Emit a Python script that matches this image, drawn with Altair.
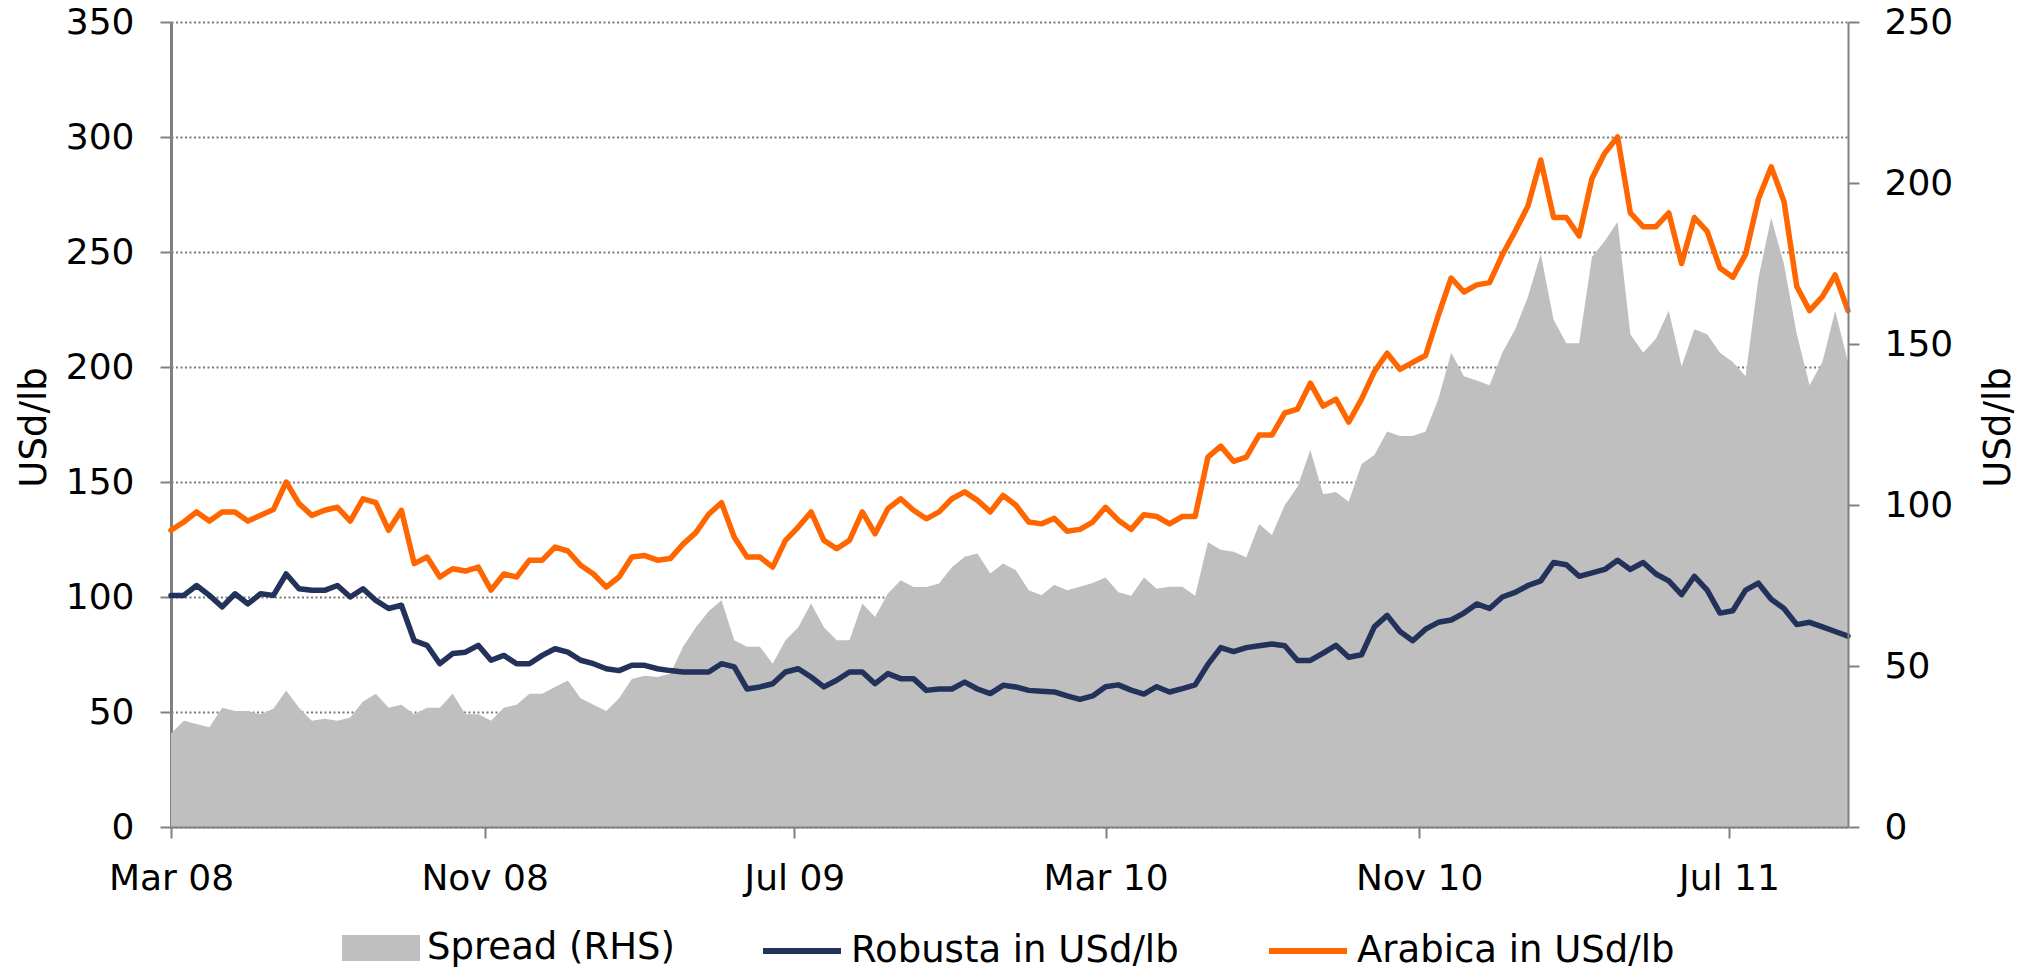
import altair as alt
import pandas as pd

# ---- data (one value every 10 days from 1 Mar 2008) ----
START = "2008-03-01"
STEP_DAYS = 10

arabica = [129, 132.6, 137, 133, 137, 137, 133, 135.5, 138, 150,
           140.6, 135.5, 137.7, 139, 133, 142.7, 141, 129, 137.7, 114.5,
           117.4, 108.7, 112.3, 111.3, 113, 103, 110, 108.7, 116, 116,
           121.7, 120, 113.8, 110, 104.3, 108.7, 117.4, 118, 116, 116.7,
           123, 128, 136, 141, 126, 117.4, 117.4, 113, 124.6, 130.4,
           137, 124.6, 121, 124.6, 137, 127.5, 138.4, 142.7, 137.7, 134,
           137, 142.7, 145.7, 142, 137, 144.2, 139.9, 132.6, 131.8, 134.2,
           128.6, 129.4, 132.6, 139, 133.4, 129.4, 135.8, 135, 131.8, 135,
           135, 160.8, 165.6, 159, 160.8, 170.4, 170.4, 180, 181.7, 193,
           183, 186, 176, 186, 198, 206, 199, 202, 205, 222.5,
           238.7, 232.6, 235.7, 236.7, 248.8, 259, 270, 290, 265, 265,
           257, 282, 293, 300, 267, 261, 261, 267, 245, 265,
           259, 243, 239, 249, 273, 287, 272, 235, 224.5, 230.6,
           240, 224.5]

robusta = [100.7, 100.7, 105, 100.7, 95.7, 101.4, 97, 101.4, 100.7, 110,
           103.6, 102.9, 102.9, 105, 100, 103.6, 98.5, 95, 96.4, 81,
           79, 71, 75.4, 76, 79, 72.5, 74.6, 71, 71, 74.6,
           77.5, 76, 72.5, 71, 68.8, 68, 70.3, 70.3, 68.8, 68,
           67.4, 67.4, 67.4, 71, 69.6, 60, 60.9, 62.3, 67.4, 68.8,
           65.2, 60.9, 63.8, 67.4, 67.4, 62.3, 66.7, 64.5, 64.5, 59.4,
           60, 60, 63, 60, 58, 61.6, 60.9, 59.4, 59, 58.7,
           57, 55.5, 57, 61, 61.8, 59.5, 57.8, 61, 58.7, 60.2,
           61.8, 70.7, 78, 76.3, 78, 78.8, 79.6, 78.8, 72.4, 72.4,
           75.6, 79, 73.8, 74.9, 87, 92, 85, 81, 86, 89,
           90, 93, 97, 95, 100, 102, 105, 107, 115, 114,
           109, 110.5, 112, 116, 112, 115, 110, 107, 101, 109,
           103, 93, 94, 103, 106, 99, 95, 88, 89, 87,
           85, 83]

spread = [29, 33, 32, 31, 37, 36, 36, 35, 36.7, 42.4,
          37, 33, 33.6, 33, 34, 39, 41.4, 37, 38, 35,
          37, 37, 41.4, 35, 35, 33, 37, 38, 41.4, 41.4,
          43.5, 45.5, 40, 38, 36, 40, 46, 47, 46.6, 47.6,
          56, 62, 67, 70.4, 58, 56, 56, 50.7, 58, 62,
          69.4, 62, 58, 58, 69.4, 65.2, 72.5, 76.6, 74.5, 74.5,
          75.6, 80.7, 83.9, 84.9, 78.7, 81.8, 79.7, 73.5, 72, 75.2,
          73.5, 74.6, 75.8, 77.5, 72.9, 71.8, 77.5, 74, 74.6, 74.6,
          71.8, 88.4, 86.1, 85.5, 83.8, 94.1, 90.7, 99.9, 105.7, 117.1,
          103.3, 104, 101, 112.7, 115.5, 122.8, 121.4, 121.4, 122.8, 132.9,
          147.3, 140, 138.7, 137.2, 147.3, 154.6, 164.7, 178, 157.5, 150.2,
          150.2, 177, 182, 188, 153, 147.3, 151.7, 160.3, 143, 154.6,
          153, 147.3, 144.4, 140, 170.4, 189.2, 174.8, 153, 137.2, 144.4,
          160.3, 144.4]

series_names = ["Spread (RHS)", "Robusta in USd/lb", "Arabica in USd/lb"]
series_colors = ["#BFBFBF", "#22325A", "#FF6600"]
left_ticks = [0, 50, 100, 150, 200, 250, 300, 350]
right_ticks = [0, 50, 100, 150, 200, 250]
x_tick_dates = [(2008, 3), (2008, 11), (2009, 7), (2010, 3), (2010, 11), (2011, 7)]
x_domain = [(2008, 3, 1), (2011, 10, 2)]

# ---- tables ----
dates = pd.date_range(START, periods=len(arabica), freq=f"{STEP_DAYS}D").strftime("%Y-%m-%d").tolist()
area_df = pd.DataFrame({"date": dates, "value": spread, "series": series_names[0]})
line_df = pd.concat([
    pd.DataFrame({"date": dates, "value": robusta, "series": series_names[1]}),
    pd.DataFrame({"date": dates, "value": arabica, "series": series_names[2]}),
], ignore_index=True)

FONT = "DejaVu Sans"
AX = "#808080"

x_enc = alt.X(
    "date:T",
    scale=alt.Scale(type="utc", domain=[alt.DateTime(year=y, month=m, date=d, utc=True) for (y, m, d) in x_domain]),
    axis=alt.Axis(
        values=[alt.DateTime(year=y, month=m, date=1, utc=True) for (y, m) in x_tick_dates],
        labelExpr="utcFormat(datum.value, '%b %y')", title=None, grid=False,
        labelFlush=False, labelOverlap=False, labelLimit=400,
        domainColor=AX, domainWidth=2, tickColor=AX, tickWidth=2, tickSize=11,
        labelPadding=23, labelFontSize=36, labelColor="black", zindex=1,
    ),
)

area = alt.Chart(area_df).mark_area(opacity=1).encode(
    x=x_enc,
    y=alt.Y("value:Q", scale=alt.Scale(domain=[0, 250], nice=False, zero=True),
            axis=alt.Axis(orient="right", values=right_ticks, grid=False, title="USd/lb",
                          domainColor=AX, domainWidth=2, tickColor=AX, tickWidth=2, tickSize=11,
                          labelPadding=25, labelFontSize=36, labelColor="black",
                          titleFontSize=37, titleFontWeight="normal", titleColor="black",
                          titleAngle=270, titleX=161, titleY=405, titleAlign="center",
                          titleBaseline="alphabetic", zindex=1)),
    fill=alt.Fill("series:N", scale=alt.Scale(domain=series_names[:1], range=series_colors[:1]),
                  legend=alt.Legend(orient="none", legendX=171, legendY=887, title=None,
                                    symbolType="M-1,-0.333L1,-0.333L1,0.333L-1,0.333Z",
                                    symbolSize=6084, symbolStrokeWidth=0, symbolOpacity=1,
                                    labelFontSize=37, labelOffset=7, labelColor="black",
                                    labelLimit=600, padding=0)),
)

lines = alt.Chart(line_df).mark_line(strokeWidth=5.5, strokeJoin="round", strokeCap="round").encode(
    x=x_enc,
    y=alt.Y("value:Q", scale=alt.Scale(domain=[0, 350], nice=False, zero=True),
            axis=alt.Axis(orient="left", values=left_ticks, grid=True, title="USd/lb",
                          gridColor="#7A7A7A", gridDash=[2, 2.5], gridWidth=2,
                          domainColor=AX, domainWidth=3, tickColor=AX, tickWidth=2, tickSize=11,
                          labelPadding=26, labelFontSize=36, labelColor="black",
                          titleFontSize=37, titleFontWeight="normal", titleColor="black",
                          titleAngle=270, titleX=-126, titleY=405, titleAlign="center",
                          titleBaseline="alphabetic", zindex=0)),
    stroke=alt.Stroke("series:N", scale=alt.Scale(domain=series_names[1:], range=series_colors[1:]),
                      legend=alt.Legend(orient="none", legendX=589, legendY=887, title=None,
                                        direction="horizontal", symbolType="stroke",
                                        symbolSize=6084, symbolStrokeWidth=6,
                                        labelFontSize=37, labelOffset=7, labelColor="black",
                                        columnPadding=78, labelLimit=600, padding=0)),
    detail="series:N",
)

chart = alt.layer(area, lines).resolve_scale(y="independent").properties(
    width=1677, height=805,
    autosize=alt.AutoSizeParams(type="none"),
    padding={"left": 163, "top": 14, "right": 175, "bottom": 145},
).configure(font=FONT).configure_view(stroke=None)

chart.save("out.html", embed_options={"renderer": "svg", "actions": False})
